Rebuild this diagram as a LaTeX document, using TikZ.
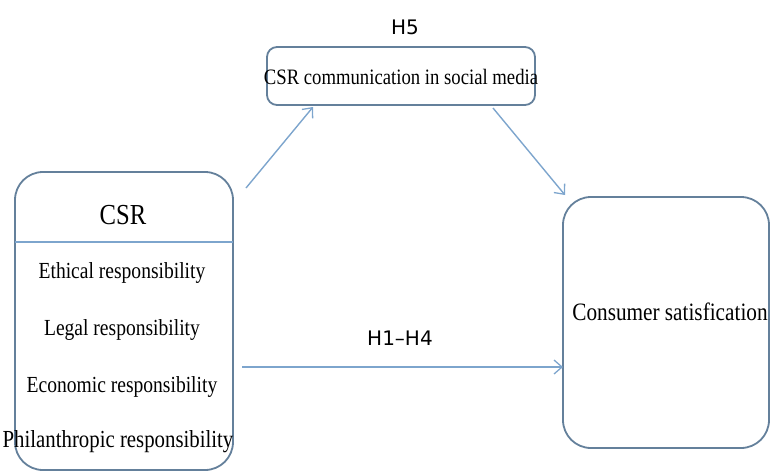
\documentclass[tikz,border=0pt]{standalone}
\usepackage{fontspec}
\setmainfont[FakeStretch=0.85]{Liberation Serif}
\newfontfamily\labfont{DejaVu Sans}
\usetikzlibrary{arrows.meta}
\definecolor{boxc}{RGB}{100,128,155}
\definecolor{arrc}{RGB}{125,165,205}
\tikzset{
  x=1pt, y=-1pt,
  rbox/.style={draw=boxc, line width=1.8pt, rounded corners=#1},
  conn/.style={draw=arrc, line width=1.4pt, -{Straight Barb[length=8pt,width=14pt,line width=1.3pt]}},
  boxtext/.style={font=\fontsize{23}{25}\selectfont, inner sep=0pt},
  hlab/.style={font=\labfont\fontsize{20}{22}\selectfont, inner sep=0pt},
}
\begin{document}
\begin{tikzpicture}
\useasboundingbox (0,0) rectangle (772,472);
% CSR box
\draw[rbox=28pt] (15,172) rectangle (233,470);
\draw[draw=arrc, line width=1.4pt] (15,242) -- (233,242);
\node[boxtext, font=\fontsize{29}{31}\selectfont] (csr) at (123,215) {CSR};
\node[boxtext] (eth) at (122,273) {Ethical responsibility};
\node[boxtext] (leg) at (122,330) {Legal responsibility};
\node[boxtext] (eco) at (122,387) {Economic responsibility};
\node[boxtext, font=\fontsize{24.5}{26}\selectfont] (phi) at (118,442) {Philanthropic responsibility};
\coordinate (csrtop) at (246,188);
\coordinate (csrmid) at (242,367);
% top box
\draw[rbox=10pt] (267,47) rectangle (535,105);
\node[boxtext, font=\fontsize{22}{24}\selectfont] (med) at (401,77) {CSR communication in social media};
\coordinate (medl) at (313,107);
\coordinate (medr) at (493,108);
\node[hlab] (h5) at (405,27) {H5};
% consumer box
\draw[rbox=28pt] (563,197) rectangle (769,448);
\node[boxtext, font=\fontsize{25}{27}\selectfont] (con) at (670,312) {Consumer satisfication};
\coordinate (conl) at (563,367);
\coordinate (contop) at (565,195);
% arrows
\draw[conn] (csrtop) -- (medl);
\draw[conn] (medr) -- (contop);
\draw[conn] (csrmid) -- (conl);
\node[hlab] (h14) at (400,338) {H1–H4};
\end{tikzpicture}
\end{document}
